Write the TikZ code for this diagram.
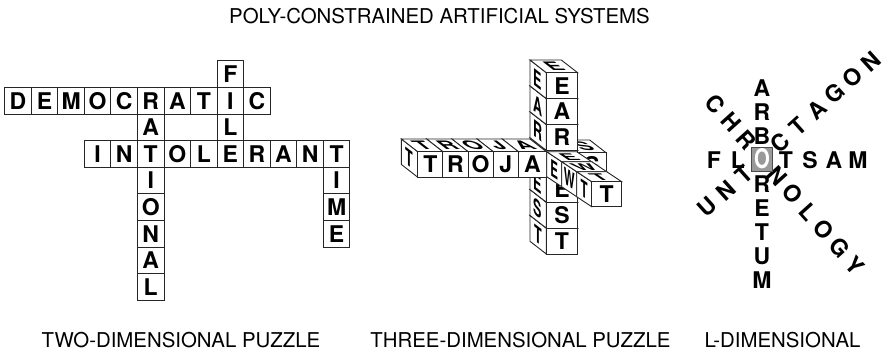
\documentclass[tikz,border=0pt]{standalone}
\usepackage{fontspec}
\setmainfont{TeX Gyre Heros}
\setsansfont{TeX Gyre Heros}
\usetikzlibrary{positioning}

\def\pitch{26.55}
\def\depx{16.3}
\def\depy{12.7}
% one cube: name, front corner x, y, width, height, front, side, top letter
\newcommand{\cubecell}[8]{
  \pgfmathsetmacro{\sidea}{\depx/30}
  \pgfmathsetmacro{\sideb}{-\depy/30}
  \pgfmathsetmacro{\topc}{-\depx/25}
  \pgfmathsetmacro{\topd}{\depy/25}
  \draw[facebox] (#2,#3) -- ++(-\depx,-\depy) -- ++(0,#5) -- ++(\depx,\depy) -- cycle;
  \draw[facebox] (#2,#3) -- ++(-\depx,-\depy) -- ++(#4,0) -- ++(\depx,\depy) -- cycle;
  \draw[facebox] (#2,#3) rectangle ++(#4,#5);
  \node[letter3d] (#1f) at ({#2+#4/2},{#3+#5/2}) {#6};
  \node[letter3d, shift={({#2-\depx/2},{#3-\depy/2+#5/2})}, cm={\sidea,\sideb,0,1,(0,0)}, transform shape] (#1s) {#7};
  \node[letter3d, shift={({#2+#4/2-\depx/2},{#3-\depy/2})}, cm={1,0,\topc,\topd,(0,0)}, transform shape] (#1t) {#8};
}

\begin{document}
\begin{tikzpicture}[
  x=1pt, y=-1pt,
  font=\sffamily,
  gridcell/.style={draw=black!85, line width=0.9pt, fill=white, minimum size=26.55pt, inner sep=0pt, outer sep=0pt, font=\sffamily\bfseries\fontsize{23}{23}\selectfont},
  facebox/.style={draw=black!85, line width=0.9pt, fill=white},
  letter3d/.style={inner sep=0pt, font=\sffamily\fontsize{23}{23}\selectfont\bfseries},
  freeletter/.style={inner sep=0pt, font=\sffamily\bfseries\fontsize{23}{23}\selectfont},
  caption/.style={inner sep=0pt, font=\sffamily\fontsize{20.4}{20.4}\selectfont}
]
\useasboundingbox (0,0) rectangle (885,357);
% ---------- headings ----------
\node[caption] (title) at (439.5,16) {POLY-CONSTRAINED ARTIFICIAL SYSTEMS};
\node[caption] (twolab) at (181,340) {TWO-DIMENSIONAL PUZZLE};
\node[caption] (threelab) at (520.5,340) {THREE-DIMENSIONAL PUZZLE};
\node[caption] (llab) at (782.5,340) {L-DIMENSIONAL};
% ---------- two-dimensional puzzle ----------
\foreach \ch [count=\i from 0] in {D,E,M,O,C,R,A,T,I,C}
  \node[gridcell] (dem\i) at ({18+\pitch*\i},100.7) {\ch};
\foreach \ch [count=\i from 3] in {I,N,T,O,L,E,R,A,N,T}
  \node[gridcell] (into\i) at ({18+\pitch*\i},153.9) {\ch};
\foreach \ch/\r in {A/1,I/3,O/4,N/5,A/6,L/7}
  \node[gridcell] (rat\r) at ({18+\pitch*5},{100.7+26.6*\r}) {\ch};
\foreach \ch/\r in {F/-1,L/1}
  \node[gridcell] (fil\r) at ({18+\pitch*8},{100.7+26.6*\r}) {\ch};
\foreach \ch/\r in {I/3,M/4,E/5}
  \node[gridcell] (tim\r) at ({18+\pitch*12},{100.7+26.6*\r}) {\ch};
% ---------- three-dimensional puzzle ----------
\cubecell{back}{578}{152.7}{28}{25.3}{S}{}{S}
\foreach \ch/\r in {T/6,S/5,E/4,{}/3,R/2,A/1}{
  \cubecell{col\r}{546.3}{72.7+25.9*\r}{31.3}{25.9}{\ch}{\ch}{}
}
\cubecell{col0}{546.3}{72.7}{31.3}{25.9}{E}{E}{E}
\foreach \ch/\c/\w in {A/4/28,J/3/25.3,O/2/25.3,R/1/25.3}{
  \cubecell{row\c}{417.7+25.15*\c}{151.7}{\w}{25.5}{\ch}{}{\ch}
}
\cubecell{row0}{417.7}{151.7}{25.15}{25.5}{T}{T}{T}
\def\depx{15}
\def\depy{10}
\cubecell{arm1}{561.7}{161.7}{30}{25}{}{E}{E}
\cubecell{arm2}{576.7}{171.7}{30}{25}{}{W}{W}
\cubecell{arm3}{591.7}{181.7}{30}{25}{T}{T}{T}
% ---------- l-dimensional ----------
\foreach \ch/\i in {F/-2,L/-1,T/1,S/2,A/3,M/4}
  \node[freeletter] (flot\i) at ({762+24*\i},160) {\ch};
\foreach \ch/\i in {A/-3,R/-2,B/-1,R/1,E/2,T/3,U/4,M/5}
  \node[freeletter] (arb\i) at (762,{160+24*\i}) {\ch};
\foreach \ch/\i in {C/-3,H/-2,R/-1,N/1,O/2,L/3,O/4,G/5,Y/6}
  \node[freeletter, rotate=-48] (chr\i) at ({762+15.5*\i},{158+18*\i}) {\ch};
\foreach \ch/\i in {U/-3,N/-2,T/-1,C/1,T/2,A/3,G/4,O/5,N/6}
  \node[freeletter, rotate=42] (oct\i) at ({762+18.2*\i},{158.5-16.2*\i}) {\ch};
\node[draw=black!70, line width=1pt, fill=black!40, minimum width=21pt, minimum height=24pt, inner sep=0pt] (hub) at (762,159) {};
\node[freeletter, white, font=\sffamily\bfseries\fontsize{27}{27}\selectfont, xscale=0.75, transform shape] (hubletter) at (hub.center) {O};
\end{tikzpicture}
\end{document}
